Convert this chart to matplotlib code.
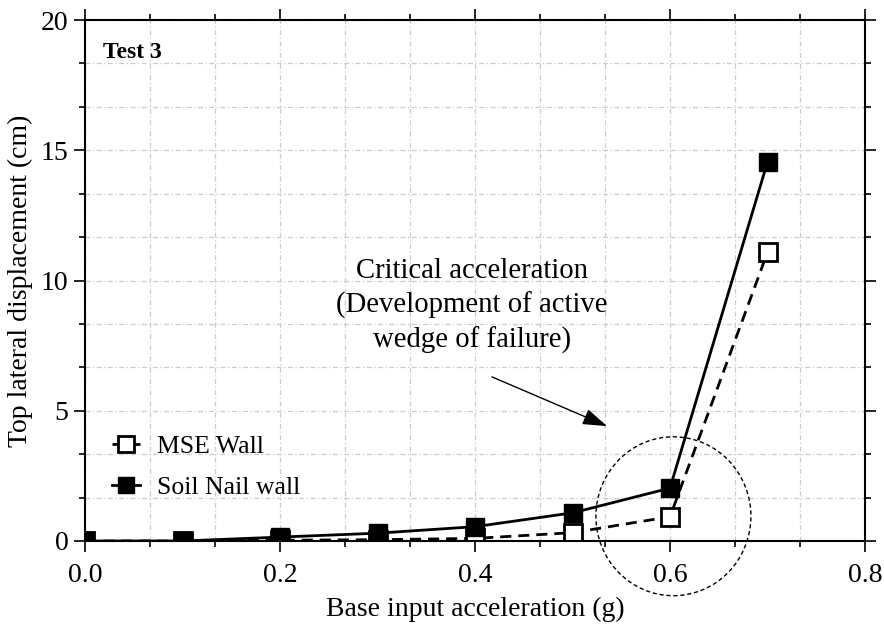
import matplotlib
matplotlib.use("Agg")
import matplotlib.pyplot as plt
from matplotlib.patches import Ellipse
from matplotlib.ticker import MultipleLocator, AutoMinorLocator, FormatStrFormatter

plt.rcParams['font.family'] = ['Liberation Serif', 'DejaVu Serif']

accel = [0.0, 0.1, 0.2, 0.3, 0.4, 0.5, 0.6, 0.7]
mse_wall = [0.0, 0.0, 0.03, 0.05, 0.1, 0.32, 0.93, 11.08]
soil_nail = [0.0, 0.0, 0.15, 0.3, 0.55, 1.08, 2.03, 14.55]

fig = plt.figure(figsize=(8.84, 6.26), dpi=100)
ax = fig.add_axes([85/884, 1-541/626, (865-85)/884, (541-20)/626])

ax.plot(accel, soil_nail, '-', color='black', lw=2, marker='s', ms=12.5,
        mfc='black', mec='black', label='Soil Nail wall', zorder=3)
ax.plot(accel, mse_wall, '--', color='black', lw=2, marker='s', ms=12.5,
        mfc='white', mec='black', mew=2, label='MSE Wall', zorder=2,
        dashes=(4, 2.5))

ax.set_xlim(0, 0.8)
ax.set_ylim(0, 20)
ax.xaxis.set_major_locator(MultipleLocator(0.2))
ax.yaxis.set_major_locator(MultipleLocator(5))
ax.xaxis.set_minor_locator(AutoMinorLocator(3))
ax.yaxis.set_minor_locator(AutoMinorLocator(3))
ax.xaxis.set_major_formatter(FormatStrFormatter('%.1f'))
ax.grid(True, which='both', color='#cccccc', linestyle=(0, (4, 2, 1, 2)), lw=0.9)
ax.set_axisbelow(True)
ax.tick_params(which='both', direction='out', top=True, right=True,
               labeltop=False, labelright=False, labelsize=20, width=1.2)
ax.tick_params(which='major', length=8)
ax.tick_params(axis='x', which='major', pad=8)
ax.tick_params(axis='y', which='major', pad=4)
ax.tick_params(which='minor', length=4)
for s in ax.spines.values():
    s.set_linewidth(1.5)

ax.set_xlabel('Base input acceleration (g)', fontsize=20)
ax.set_ylabel('Top lateral displacement (cm)', fontsize=20)
ax.xaxis.set_label_coords(0.5, -0.108)
ax.yaxis.set_label_coords(-0.067, 0.5)

ax.text(0.0185, 18.77, 'Test 3', fontsize=17, fontweight='bold', ha='left', va='center')

handles, labels = ax.get_legend_handles_labels()
leg = ax.legend(handles[::-1], labels[::-1], loc='lower left',
                bbox_to_anchor=(0.005, 0.0366), frameon=False, fontsize=18.5,
                handlelength=1.1, markerscale=0.95, labelspacing=0.7,
                handletextpad=0.65)

ax.text(0.397, 9.02, 'Critical acceleration\n(Development of active\nwedge of failure)',
        fontsize=20.7, ha='center', va='center', linespacing=1.36)
ax.annotate('', xy=(0.5354, 4.41), xytext=(0.4174, 6.30),
            arrowprops=dict(arrowstyle='-|>,head_length=1.5,head_width=0.5',
                            color='black', lw=1, shrinkA=0, shrinkB=0))

ell = Ellipse((0.6035, 0.95), width=0.159, height=6.1, fill=False,
              ls=(0, (3, 2)), lw=1, color='black', clip_on=False)
ax.add_patch(ell)

fig.savefig('out.png', dpi=100)
